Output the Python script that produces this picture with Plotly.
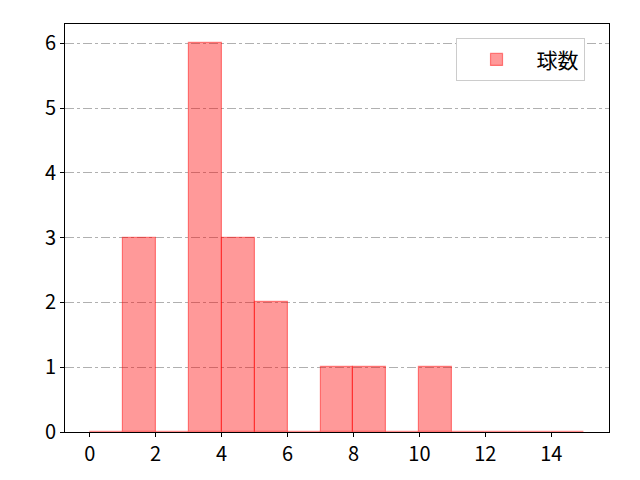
import plotly.graph_objects as go

# histogram bins (width 1) and counts
bin_left = list(range(0, 15))
counts = [0, 3, 0, 6, 3, 2, 0, 1, 1, 0, 1, 0, 0, 0, 0]
x_ticks = [0, 2, 4, 6, 8, 10, 12, 14]
y_ticks = [0, 1, 2, 3, 4, 5, 6]

fig = go.Figure()
fig.add_trace(go.Bar(
    x=[b + 0.5 for b in bin_left], y=counts, width=1,
    name="球数",
    marker=dict(color="rgba(255,0,0,0.4)",
                line=dict(color="rgba(255,0,0,0.45)", width=1.2)),
))

# page body adds an 8px offset, so margins are shifted to compensate
fig.update_layout(
    width=640, height=480,
    margin=dict(l=57, r=39, t=16, b=56),
    paper_bgcolor="white", plot_bgcolor="white",
    font=dict(family="Noto Sans CJK JP", size=20, color="black"),
    showlegend=True,
    legend=dict(x=0.955, y=0.965, xanchor="right", yanchor="top",
                bordercolor="#cccccc", borderwidth=1, bgcolor="white",
                font=dict(size=21), itemwidth=70),
    bargap=0,
)
fig.update_xaxes(range=[-0.75, 15.75], tickvals=x_ticks, showgrid=False,
                 showline=True, linecolor="black", linewidth=1, mirror=True,
                 ticks="outside", ticklen=4, tickcolor="black", zeroline=False)
fig.update_yaxes(range=[0, 6.3], tickvals=y_ticks, showgrid=True,
                 gridcolor="#b0b0b0", griddash="dashdot", gridwidth=0.8,
                 showline=True, linecolor="black", linewidth=1, mirror=True,
                 ticks="outside", ticklen=4, tickcolor="black", zeroline=False)

fig.write_html("out.html")
